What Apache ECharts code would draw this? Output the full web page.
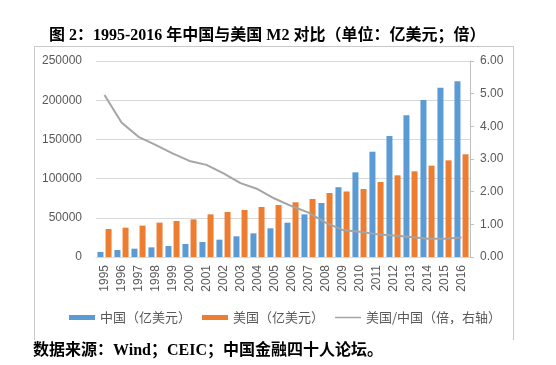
<!DOCTYPE html>
<html><head><meta charset="utf-8">
<script src="https://cdn.jsdelivr.net/npm/echarts@6/dist/echarts.min.js"></script>
<style>html,body{margin:0;padding:0;background:#fff}#c{width:556px;height:365px}</style>
</head><body><div id="c"></div>
<script>
var years = ['1995','1996','1997','1998','1999','2000','2001','2002','2003','2004','2005','2006','2007','2008','2009','2010','2011','2012','2013','2014','2015','2016'];
var china = [6500, 8900, 10600, 12300, 14000, 16600, 19100, 22100, 26400, 30200, 36600, 43800, 54400, 68900, 89000, 108000, 134300, 154300, 180700, 200300, 216000, 224100];
var usa = [35700, 37400, 40000, 43800, 45900, 48000, 54400, 57400, 60000, 63800, 66300, 69800, 74000, 81600, 83600, 86700, 95700, 104200, 109300, 116500, 123300, 131000];
var ratio = [4.96, 4.12, 3.68, 3.43, 3.17, 2.94, 2.82, 2.56, 2.26, 2.08, 1.79, 1.56, 1.36, 1.05, 0.83, 0.77, 0.70, 0.66, 0.61, 0.56, 0.56, 0.60];
var leftTicks = ['0','50000','100000','150000','200000','250000'];
var rightTicks = ['0.00','1.00','2.00','3.00','4.00','5.00','6.00'];
var seriesNames = ['中国（亿美元）', '美国（亿美元）', '美国/中国（倍，右轴）'];
var titleText = '图 2：1995-2016 年中国与美国 M2 对比（单位：亿美元；倍）';
var sourceText = '数据来源：Wind；CEIC；中国金融四十人论坛。';

var chart = echarts.init(document.getElementById('c'));
var serifBold = "'Liberation Serif','Noto Sans CJK SC'";
var lbl = {color: '#595959', fontSize: 12, fontFamily: "'Liberation Sans','Noto Sans CJK SC'"};
chart.setOption({
  animation: false,
  backgroundColor: '#fff',
  title: [{
    text: titleText, left: 44, top: 23,
    textStyle: {fontSize: 16, fontWeight: 'bold', color: '#000', fontFamily: serifBold}
  }, {
    text: sourceText, left: 28, top: 338,
    textStyle: {fontSize: 16, fontWeight: 'bold', color: '#000', fontFamily: serifBold}
  }],
  graphic: [{
    type: 'polyline', silent: true,
    shape: {points: [[34.5, 340], [34.5, 46.5], [513.5, 46.5], [513.5, 340]]},
    style: {stroke: '#C8C8C8', lineWidth: 1, fill: null}
  }],
  grid: {left: 96, right: 86, top: 61, bottom: 108},
  legend: {
    left: 64, top: 306, itemGap: 11, itemWidth: 26, itemHeight: 5,
    textStyle: {color: '#595959', fontSize: 13, fontFamily: "'Noto Sans CJK SC'"},
    data: [
      {name: seriesNames[0], icon: 'rect'},
      {name: seriesNames[1], icon: 'rect'},
      {name: seriesNames[2], icon: 'path://M0,0 L28,0 L28,1.6 L0,1.6 Z'}
    ]
  },
  xAxis: {
    type: 'category', data: years,
    axisLine: {lineStyle: {color: '#D9D9D9'}},
    axisTick: {show: false},
    axisLabel: Object.assign({rotate: 90, interval: 0, margin: 8}, lbl)
  },
  yAxis: [{
    type: 'value', min: 0, max: 250000, interval: 50000,
    axisLine: {show: false}, axisTick: {show: false},
    splitLine: {lineStyle: {color: '#D9D9D9', width: 1}},
    axisLabel: Object.assign({margin: 14, formatter: function (v) { return leftTicks[Math.round(v / 50000)]; }}, lbl)
  }, {
    type: 'value', min: 0, max: 6, interval: 1, position: 'right',
    axisLine: {show: true, lineStyle: {color: '#BFBFBF'}},
    axisTick: {show: true, length: 4, lineStyle: {color: '#BFBFBF'}},
    splitLine: {show: false},
    axisLabel: Object.assign({margin: 10, formatter: function (v) { return rightTicks[Math.round(v)]; }}, lbl)
  }],
  series: [{
    name: seriesNames[0], type: 'bar', data: china, barWidth: 6, barGap: '35%',
    itemStyle: {color: '#5B9BD5'}
  }, {
    name: seriesNames[1], type: 'bar', data: usa, barWidth: 6,
    itemStyle: {color: '#ED7D31'}
  }, {
    name: seriesNames[2], type: 'line', yAxisIndex: 1, data: ratio,
    symbol: 'none', lineStyle: {color: '#A5A5A5', width: 2}, itemStyle: {color: '#A5A5A5'}
  }]
});
</script></body></html>
